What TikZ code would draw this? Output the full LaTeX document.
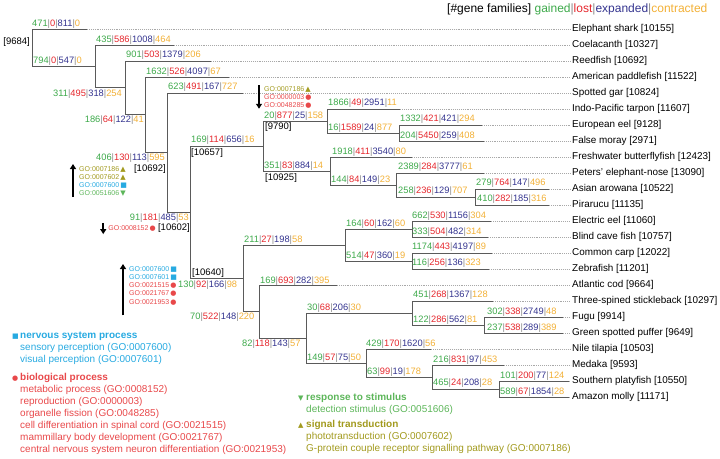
\documentclass[tikz,border=0pt]{standalone}
\usepackage{fontspec}
\setmainfont{Liberation Sans}
\newfontfamily\symfont{DejaVu Sans}
\usepackage{xcolor}
\usepackage{tikz}
\usetikzlibrary{arrows.meta,calc}
\definecolor{gaingreen}{HTML}{3DA94A}
\definecolor{lossred}{HTML}{E5262C}
\definecolor{expblue}{HTML}{34348F}
\definecolor{contrgold}{HTML}{F2B036}
\definecolor{sepgray}{HTML}{8A8A8A}
\definecolor{branchgray}{HTML}{5A5A5A}
\definecolor{dotgray}{HTML}{A8A8A8}
\definecolor{gocyan}{HTML}{27AAE1}
\definecolor{gored}{HTML}{E8484A}
\definecolor{gogreen}{HTML}{5DB65A}
\definecolor{goolive}{HTML}{A29A1E}
\newcommand{\gfc}[4]{\textcolor{gaingreen}{#1}\textcolor{sepgray}{|}\textcolor{lossred}{#2}%
  \textcolor{sepgray}{|}\textcolor{expblue}{#3}\textcolor{sepgray}{|}\textcolor{contrgold}{#4}}
\newcommand{\goline}[3]{\textcolor{#1}{GO:#2\,{\symfont #3}}}
\newcommand{\legsym}[1]{\makebox[8pt][l]{\symfont\fontsize{7}{7}\selectfont #1}}
\tikzset{
  branch/.style  = {draw=branchgray, line width=0.9pt},
  dotline/.style = {draw=dotgray, line width=0.6pt, dash pattern=on 0.7pt off 1.2pt},
  cnt/.style     = {inner sep=0pt, anchor=west, font=\fontsize{9.3}{11}\selectfont},
  famsize/.style = {inner sep=0pt, anchor=west, font=\fontsize{9.5}{11}\selectfont},
  spname/.style  = {inner sep=1.5pt, anchor=west, font=\fontsize{9.9}{12}\selectfont},
  golist/.style  = {inner sep=0pt, anchor=north west, align=left, font=\fontsize{7}{8.3}\selectfont},
  goarrow/.style = {-{Triangle[length=5pt,width=6pt]}, line width=1.6pt, draw=black},
  legtxt/.style  = {inner sep=0pt, anchor=north west, align=left, font=\fontsize{10}{12}\selectfont},
  hdrline/.style = {inner sep=0pt, anchor=west, font=\fontsize{12}{14}\selectfont},
}

\begin{document}
\begin{tikzpicture}[x=1pt, y=-1pt]
  \useasboundingbox (0,0) rectangle (720,458);

  %% ---------------- header --------------------------------------------------------------
  \node[hdrline] (hdr) at (447,9) {[\#gene families] \textcolor{gaingreen}{gained}\textcolor{sepgray}{|}%
    \textcolor{lossred}{lost}\textcolor{sepgray}{|}\textcolor{expblue}{expanded}\textcolor{sepgray}{|}%
    \textcolor{contrgold}{contracted}};

  %% ---------------- leaves: end of solid branch, dotted guide, species name --------------
  \foreach \sp/\yy/\xe/\txt in {
      eshark/29/87/{Elephant shark [10155]},
      coel/45/174/{Coelacanth [10327]},
      reed/61/211/{Reedfish [10692]},
      paddle/77/229/{American paddlefish [11522]},
      gar/93/243/{Spotted gar [10824]},
      tarpon/109/400/{Indo-Pacific tarpon [11607]},
      eel/125/482/{European eel [9128]},
      moray/141/484/{False moray [2971]},
      bfly/157/412/{Freshwater butterflyfish [12423]},
      enose/173/484/{Peters' elephant-nose [13090]},
      arow/189/549/{Asian arowana [10522]},
      pira/205/549/{Pirarucu [11135]},
      eleel/221/491/{Electric eel [11060]},
      cave/237/488/{Blind cave fish [10757]},
      carp/253/492/{Common carp [12022]},
      zebra/269/489/{Zebrafish [11201]},
      cod/285/337/{Atlantic cod [9664]},
      stickle/301/493/{Three-spined stickleback [10297]},
      fugu/317/563/{Fugu [9914]},
      puffer/333/563/{Green spotted puffer [9649]},
      tilapia/349/431/{Nile tilapia [10503]},
      medaka/365/504/{Medaka [9593]},
      platy/381/569/{Southern platyfish [10550]},
      molly/397/569/{Amazon molly [11171]}%
    }{
    \coordinate (lf\sp) at (\xe,\yy);
    \node[spname] (sp\sp) at (570.5,\yy) {\txt};
    \draw[dotline] (lf\sp) -- (sp\sp.west);
  }

  %% ---------------- internal nodes (x = split, y = midpoint of children) -----------------
  \coordinate (nRoot) at (32,47.7);
  \coordinate (nOst)  at (95,66.5);
  \coordinate (nAct)  at (125,87.9);
  \coordinate (nActi) at (145,114.8);
  \coordinate (nNeo)  at (167,152.6);
  \coordinate (nTel)  at (190,212.1);
  \coordinate (nOsc)  at (263,146);
  \coordinate (nElo)  at (327,121);
  \coordinate (nAng)  at (399,133);
  \coordinate (nOsm)  at (330,171);
  \coordinate (nOsg)  at (396,185);
  \coordinate (nAra)  at (475,197);
  \coordinate (nClu)  at (243,278.3);
  \coordinate (nOto)  at (345,245);
  \coordinate (nCha)  at (412,229);
  \coordinate (nCyp)  at (412,261);
  \coordinate (nEut)  at (259,311.5);
  \coordinate (nPer)  at (306,338);
  \coordinate (nTet)  at (412,313);
  \coordinate (nPuf)  at (484,325);
  \coordinate (nAth)  at (366,363);
  \coordinate (nCyo)  at (432,377);
  \coordinate (nPoe)  at (499,389);

  \foreach \p/\c in {nRoot/lfeshark, nRoot/nOst, nOst/lfcoel, nOst/nAct, nAct/lfreed, nAct/nActi,
      nActi/lfpaddle, nActi/nNeo, nNeo/lfgar, nNeo/nTel, nTel/nOsc, nTel/nClu,
      nOsc/nElo, nOsc/nOsm, nElo/lftarpon, nElo/nAng, nAng/lfeel, nAng/lfmoray,
      nOsm/lfbfly, nOsm/nOsg, nOsg/lfenose, nOsg/nAra, nAra/lfarow, nAra/lfpira,
      nClu/nOto, nClu/nEut, nOto/nCha, nOto/nCyp, nCha/lfeleel, nCha/lfcave,
      nCyp/lfcarp, nCyp/lfzebra, nEut/lfcod, nEut/nPer, nPer/nTet, nPer/nAth,
      nTet/lfstickle, nTet/nPuf, nPuf/lffugu, nPuf/lfpuffer, nAth/lftilapia, nAth/nCyo,
      nCyo/lfmedaka, nCyo/nPoe, nPoe/lfplaty, nPoe/lfmolly}
    \draw[branch] (\p) |- (\c);

  %% ---------------- gene family counts on branches ---------------------------------------
  \node[cnt] (cEshark) at (32,24) {\gfc{471}{0}{811}{0}};
  \node[cnt] (cOst) at (33,61) {\gfc{794}{0}{547}{0}};
  \node[cnt] (cCoel) at (96,40) {\gfc{435}{586}{1008}{464}};
  \node[cnt, anchor=east] (cAct) at (122,94) {\gfc{311}{495}{318}{254}};
  \node[cnt] (cReed) at (126,55) {\gfc{901}{503}{1379}{206}};
  \node[cnt, anchor=east] (cActi) at (144,120) {\gfc{186}{64}{122}{41}};
  \node[cnt] (cPaddle) at (146,72) {\gfc{1632}{526}{4097}{67}};
  \node[cnt, anchor=east] (cNeo) at (165,158) {\gfc{406}{130}{113}{595}};
  \node[cnt] (cGar) at (168,87) {\gfc{623}{491}{167}{727}};
  \node[cnt, anchor=east] (cTel) at (189,218) {\gfc{91}{181}{485}{53}};
  \node[cnt] (cOsc) at (191,140) {\gfc{169}{114}{656}{16}};
  \node[cnt] (cElo) at (264,116) {\gfc{20}{877}{25}{158}};
  \node[cnt] (cTarpon) at (328,103) {\gfc{1866}{49}{2951}{11}};
  \node[cnt] (cAng) at (328,128) {\gfc{16}{1589}{24}{877}};
  \node[cnt] (cEel) at (400,119) {\gfc{1332}{421}{421}{294}};
  \node[cnt] (cMoray) at (400,136) {\gfc{204}{5450}{259}{408}};
  \node[cnt] (cOsm) at (264,166) {\gfc{351}{83}{884}{14}};
  \node[cnt] (cBfly) at (332,152) {\gfc{1918}{411}{3540}{80}};
  \node[cnt] (cOsg) at (331,180) {\gfc{144}{84}{149}{23}};
  \node[cnt] (cEnose) at (398,167) {\gfc{2389}{284}{3777}{61}};
  \node[cnt] (cAra) at (398,191) {\gfc{258}{236}{129}{707}};
  \node[cnt] (cArow) at (476,183) {\gfc{279}{764}{147}{496}};
  \node[cnt] (cPira) at (477,199) {\gfc{410}{282}{185}{316}};
  \node[cnt] (cClu) at (178,285) {\gfc{130}{92}{166}{98}};
  \node[cnt] (cOto) at (244,240) {\gfc{211}{27}{198}{58}};
  \node[cnt] (cCha) at (346,224) {\gfc{164}{60}{162}{60}};
  \node[cnt] (cEleel) at (412,216) {\gfc{662}{530}{1156}{304}};
  \node[cnt] (cCave) at (412,232) {\gfc{333}{504}{482}{314}};
  \node[cnt] (cCyp) at (346,256) {\gfc{514}{47}{360}{19}};
  \node[cnt] (cCarp) at (412,247) {\gfc{1174}{443}{4197}{89}};
  \node[cnt] (cZebra) at (412,263) {\gfc{116}{256}{136}{323}};
  \node[cnt] (cEut) at (190,317) {\gfc{70}{522}{148}{220}};
  \node[cnt] (cCod) at (260,281) {\gfc{169}{693}{282}{395}};
  \node[cnt] (cPer) at (242,344) {\gfc{82}{118}{143}{57}};
  \node[cnt] (cTet) at (307,308) {\gfc{30}{68}{206}{30}};
  \node[cnt] (cStickle) at (413,295) {\gfc{451}{268}{1367}{128}};
  \node[cnt] (cPuf) at (413,320) {\gfc{122}{286}{562}{81}};
  \node[cnt] (cFugu) at (487,312) {\gfc{302}{338}{2749}{48}};
  \node[cnt] (cPuffer) at (487,328) {\gfc{237}{538}{289}{389}};
  \node[cnt] (cAth) at (307,358) {\gfc{149}{57}{75}{50}};
  \node[cnt] (cTilapia) at (366,344) {\gfc{429}{170}{1620}{56}};
  \node[cnt] (cCyo) at (367,372) {\gfc{63}{99}{19}{178}};
  \node[cnt] (cMedaka) at (433,360) {\gfc{216}{831}{97}{453}};
  \node[cnt] (cPoe) at (433,383) {\gfc{465}{24}{208}{28}};
  \node[cnt] (cPlaty) at (500,376) {\gfc{101}{200}{77}{124}};
  \node[cnt] (cMolly) at (500,392) {\gfc{589}{67}{1854}{28}};

  % ancestral family sizes
  \node[famsize, anchor=east] (sRoot) at (30,42) {[9684]};
  \node[famsize, anchor=east] (sNeo) at (166,169) {[10692]};
  \node[famsize, anchor=east] (sTel) at (190,228) {[10602]};
  \node[famsize] (sOsc) at (191,153) {[10657]};
  \node[famsize] (sElo) at (265,127) {[9790]};
  \node[famsize] (sOsm) at (265,178) {[10925]};
  \node[famsize] (sClu) at (192,273) {[10640]};

  %% ---------------- enriched GO terms with up / down arrows ------------------------------
  \node[golist] (goElo) at (264,86)
    {\goline{goolive}{0007186}{▲}\\ \goline{gored}{0000003}{●}\\ \goline{gored}{0048285}{●}};
  \draw[goarrow] ([xshift=-5pt,yshift=1pt]goElo.north west) -- ([xshift=-5pt]goElo.south west);

  \node[golist] (goNeo) at (79,166)
    {\goline{goolive}{0007186}{▲}\\ \goline{goolive}{0007602}{▲}\\
     \goline{gocyan}{0007600}{■}\\ \goline{gogreen}{0051606}{▼}};
  \draw[goarrow] ([xshift=-6pt]goNeo.south west) -- ([xshift=-6pt,yshift=2pt]goNeo.north west);

  \node[golist, anchor=east] (goTel) at (156,228) {\goline{gored}{0008152}{●}};
  \draw[goarrow] ([xshift=-5pt,yshift=2pt]goTel.north west) -- ([xshift=-5pt,yshift=-3pt]goTel.south west);

  \node[golist] (goClu) at (129,266)
    {\goline{gocyan}{0007600}{■}\\ \goline{gocyan}{0007601}{■}\\ \goline{gored}{0021515}{●}\\
     \goline{gored}{0021767}{●}\\ \goline{gored}{0021953}{●}};
  \draw[goarrow] ([xshift=-6pt,yshift=-10pt]goClu.south west) -- ([xshift=-6pt,yshift=2pt]goClu.north west);

  %% ---------------- legend ----------------------------------------------------------------
  \node[legtxt, text=gocyan] (legNerv) at (12,332)
    {\legsym{■}\textbf{nervous system process}\\
     \hspace*{8pt}sensory perception (GO:0007600)\\
     \hspace*{8pt}visual perception (GO:0007601)};
  \node[legtxt, text=gored] (legBio) at (12,373)
    {\legsym{●}\textbf{biological process}\\
     \hspace*{8pt}metabolic process (GO:0008152)\\
     \hspace*{8pt}reproduction (GO:0000003)\\
     \hspace*{8pt}organelle fission (GO:0048285)\\
     \hspace*{8pt}cell differentiation in spinal cord (GO:0021515)\\
     \hspace*{8pt}mammillary body development (GO:0021767)\\
     \hspace*{8pt}central nervous system neuron differentiation (GO:0021953)};
  \node[legtxt, text=gogreen] (legResp) at (298,393)
    {\legsym{▼}\textbf{response to stimulus}\\
     \hspace*{8pt}detection stimulus (GO:0051606)};
  \node[legtxt, text=goolive] (legSig) at (298,420)
    {\legsym{▲}\textbf{signal transduction}\\
     \hspace*{8pt}phototransduction (GO:0007602)\\
     \hspace*{8pt}G-protein couple receptor signalling pathway (GO:0007186)};
\end{tikzpicture}
\end{document}
